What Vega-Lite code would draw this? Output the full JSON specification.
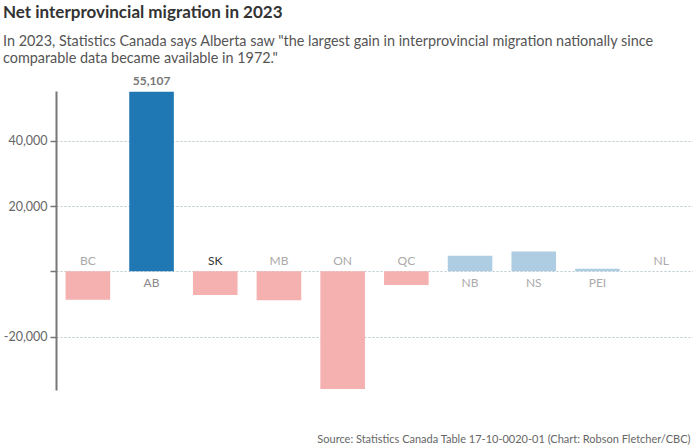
{
  "$schema": "https://vega.github.io/schema/vega-lite/v6.json",
  "width": 637,
  "height": 299,
  "autosize": {"type": "none"},
  "padding": {"left": 56, "top": 91, "right": 0, "bottom": 57},
  "background": "white",
  "config": {
    "view": {"stroke": null},
    "font": "Lato"
  },
  "title": {
    "text": "Net interprovincial migration in 2023",
    "subtitle": [
      "In 2023, Statistics Canada says Alberta saw \"the largest gain in interprovincial migration nationally since",
      "comparable data became available in 1972.\""
    ],
    "anchor": "start",
    "frame": "group",
    "dx": -53,
    "offset": 8,
    "font": "Lato",
    "fontSize": 17,
    "fontWeight": "bold",
    "color": "#333333",
    "subtitleFont": "Lato",
    "subtitleFontSize": 14.4,
    "subtitleColor": "#555555",
    "subtitleLineHeight": 17,
    "subtitlePadding": 13
  },
  "data": {
    "values": [
      {"province": "BC", "value": -8700},
      {"province": "AB", "value": 55107},
      {"province": "SK", "value": -7300},
      {"province": "MB", "value": -8900},
      {"province": "ON", "value": -36100},
      {"province": "QC", "value": -4200},
      {"province": "NB", "value": 4800},
      {"province": "NS", "value": 6100},
      {"province": "PEI", "value": 800},
      {"province": "NL", "value": 0}
    ]
  },
  "encoding": {
    "x": {
      "field": "province",
      "type": "nominal",
      "sort": null,
      "scale": {"paddingInner": 0.3, "paddingOuter": 0.15},
      "axis": {
        "labels": false,
        "ticks": false,
        "domain": false,
        "grid": false,
        "title": "Source: Statistics Canada Table 17-10-0020-01 (Chart: Robson Fletcher/CBC)",
        "titleFont": "Lato",
        "titleFontSize": 11,
        "titleFontWeight": "normal",
        "titleColor": "#666666",
        "titleAnchor": "end",
        "titleAlign": "right",
        "titleBaseline": "alphabetic",
        "titleX": 634,
        "titleY": 52
      }
    }
  },
  "layer": [
    {
      "mark": {"type": "bar"},
      "encoding": {
        "y": {
          "field": "value",
          "type": "quantitative",
          "scale": {"domain": [-36400, 55300], "nice": false, "zero": false},
          "axis": {
            "values": [-20000, 0, 20000, 40000],
            "labelExpr": "datum.value == 0 ? '' : replace(format(datum.value, ','), '\u2212', '-')",
            "title": null,
            "labelFont": "Lato",
            "labelFontSize": 12.5,
            "labelColor": "#666666",
            "labelPadding": 3,
            "tickSize": 6,
            "tickColor": "#777777",
            "tickWidth": 1.5,
            "domainColor": "#777777",
            "domainWidth": 2,
            "gridColor": "#b8c8d0",
            "gridDash": [2, 2],
            "gridWidth": 1
          }
        },
        "color": {
          "condition": [
            {"test": "datum.province === 'AB'", "value": "#1f77b4"},
            {"test": "datum.value > 0", "value": "#aecde2"}
          ],
          "value": "#f5b0b0"
        }
      }
    },
    {
      "mark": {"type": "rule", "color": "#777777", "strokeWidth": 2},
      "encoding": {"y": {"datum": 0}}
    },
    {
      "transform": [{"filter": "datum.value <= 0"}],
      "mark": {"type": "text", "font": "Lato", "fontSize": 12, "baseline": "alphabetic", "dy": -6},
      "encoding": {
        "y": {"datum": 0},
        "text": {"field": "province"},
        "color": {
          "condition": {"test": "datum.province === 'SK'", "value": "#333333"},
          "value": "#aaaaaa"
        }
      }
    },
    {
      "transform": [{"filter": "datum.value > 0"}],
      "mark": {"type": "text", "font": "Lato", "fontSize": 12, "baseline": "alphabetic", "dy": 16},
      "encoding": {
        "y": {"datum": 0},
        "text": {"field": "province"},
        "color": {
          "condition": {"test": "datum.province === 'AB'", "value": "#888888"},
          "value": "#aaaaaa"
        },
        "fontWeight": {
          "condition": {"test": "datum.province === 'AB'", "value": "bold"},
          "value": "normal"
        }
      }
    },
    {
      "transform": [{"filter": "datum.province === 'AB'"}],
      "mark": {"type": "text", "font": "Lato", "fontSize": 12, "fontWeight": "bold", "color": "#777777", "baseline": "alphabetic", "dy": -7},
      "encoding": {
        "y": {"field": "value", "type": "quantitative"},
        "text": {"field": "value", "type": "quantitative", "format": ","}
      }
    }
  ]
}
